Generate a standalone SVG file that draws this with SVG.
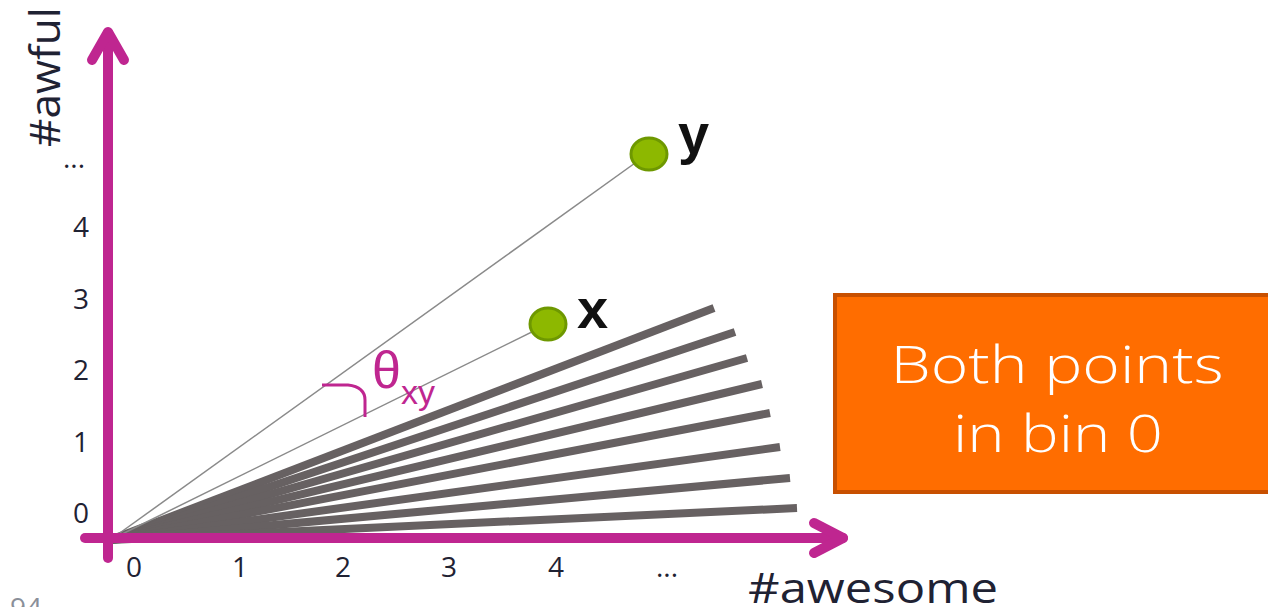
<svg xmlns="http://www.w3.org/2000/svg" width="1268" height="607" viewBox="0 0 1268 607">
<style>
.axis{stroke:#BF2690;stroke-width:10;fill:none;stroke-linecap:round;stroke-linejoin:round}
.bin{stroke:#676162;stroke-width:8;fill:none}
.vec{stroke:#8a8a8a;stroke-width:1.5;fill:none}
.tick{font-family:"Open Sans","Liberation Sans",sans-serif;font-size:28px;fill:#1f2233;text-anchor:middle}
.pt{fill:#8DB800;stroke:#6E9800;stroke-width:3}
.lbl{font-family:"Liberation Sans",Arial,sans-serif;font-weight:bold;font-size:56px;fill:#111}
.ax{font-family:"Open Sans","Liberation Sans",sans-serif;font-size:42px;fill:#1f2233}
.box{font-family:"Open Sans","Lato","Liberation Sans",sans-serif;font-weight:300;font-size:52px;fill:#fff;text-anchor:middle}
</style>
<g id="connectors">
<g id="bins">
<line class="bin" x1="110" y1="540" x2="714" y2="308"/>
<line class="bin" x1="110" y1="540" x2="735" y2="332"/>
<line class="bin" x1="110" y1="540" x2="747" y2="358"/>
<line class="bin" x1="110" y1="540" x2="762" y2="384"/>
<line class="bin" x1="110" y1="540" x2="770" y2="413"/>
<line class="bin" x1="110" y1="540" x2="780" y2="447"/>
<line class="bin" x1="110" y1="540" x2="790" y2="478"/>
<line class="bin" x1="110" y1="540" x2="797" y2="508"/>
</g>
<line class="vec" x1="110" y1="540" x2="649" y2="153"/>
<line class="vec" x1="110" y1="540" x2="548" y2="324"/>
<path d="M322 385 L348 385 Q365 387 365 400 L365 417" fill="none" stroke="#BF2690" stroke-width="3"/>
</g>
<g id="axes">
<line class="axis" x1="108" y1="558" x2="108" y2="33"/>
<polyline class="axis" points="92,60 108,32 124,60"/>
<line class="axis" x1="85" y1="538" x2="843" y2="538"/>
<polyline class="axis" points="814,523 843,538 814,553"/>
</g>
<g id="ticks">
<text class="tick" x="81" y="523">0</text>
<text class="tick" x="81" y="452">1</text>
<text class="tick" x="81" y="380">2</text>
<text class="tick" x="81" y="309">3</text>
<text class="tick" x="81" y="237">4</text>
<text class="tick" x="74" y="168">...</text>
<text class="tick" x="134" y="577">0</text>
<text class="tick" x="240" y="577">1</text>
<text class="tick" x="343" y="577">2</text>
<text class="tick" x="449" y="577">3</text>
<text class="tick" x="556" y="577">4</text>
<text class="tick" x="667" y="577">...</text>
</g>
<text class="ax" x="748" y="603" textLength="250" lengthAdjust="spacingAndGlyphs">#awesome</text>
<text class="ax" transform="translate(60,147) rotate(-90)" textLength="140" lengthAdjust="spacingAndGlyphs">#awful</text>
<text x="10" y="618" font-family="Open Sans, Liberation Sans, sans-serif" font-size="28" fill="#8a8f99">94</text>
<g id="point-y">
<ellipse class="pt" cx="649" cy="154" rx="18" ry="16"/>
<text class="lbl" x="678" y="153">y</text>
</g>
<g id="point-x">
<ellipse class="pt" cx="548" cy="324" rx="18" ry="16"/>
<text class="lbl" x="577" y="328">x</text>
</g>
<g id="theta">
<text x="372" y="388" font-family="Liberation Sans, sans-serif" font-size="52" fill="#BF2690">θ<tspan font-size="34" dy="16">xy</tspan></text>
</g>
<g id="note">
<rect x="835" y="295" width="450" height="197" fill="#FF6D00" stroke="#C85000" stroke-width="4"/>
<text class="box" x="1057" y="383" textLength="333" lengthAdjust="spacingAndGlyphs">Both points</text>
<text class="box" x="1058" y="452" textLength="210" lengthAdjust="spacingAndGlyphs">in bin 0</text>
</g>
</svg>
